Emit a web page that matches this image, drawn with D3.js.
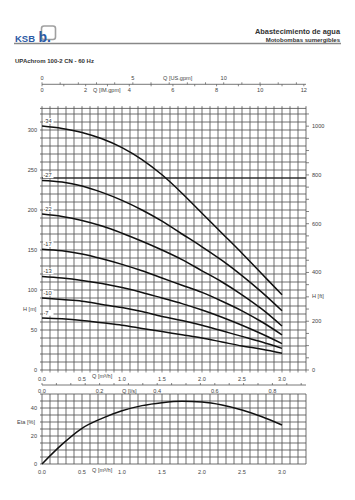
<!DOCTYPE html>
<html><head><meta charset="utf-8">
<script src="https://cdn.jsdelivr.net/npm/d3@7"></script>
<style>body{margin:0;background:#fff}svg{display:block}text{font-family:"Liberation Sans",Arial,sans-serif}</style>
</head><body><svg id="c" width="355" height="500"></svg>
<script>
// ---- data ----
const flow = [0, 0.25, 0.5, 0.75, 1.0, 1.25, 1.5, 1.75, 2.0, 2.25, 2.5, 2.75, 3.0]; // Q [m3/h]
const stageLabels = ["-34", "-27", "-22", "-17", "-13", "-10", "-7"];
const head34 = [305, 302, 297, 289, 278, 263, 244, 221, 196, 171, 146, 120, 94];
const head27 = [237, 235, 230, 222, 212, 200, 186, 170, 154, 137, 118, 97, 74];
const head22 = [195, 192, 187, 180, 171, 161, 150, 138, 124, 110, 94, 76, 55];
const head17 = [151, 149, 145, 139, 132, 124, 115, 106, 97, 86, 74, 60, 44];
const head13 = [117, 115, 112, 108, 103, 97, 90, 83, 75, 66, 56, 45, 33];
const head10 = [90, 88, 86, 82, 78, 73, 67, 62, 56, 49, 42, 35, 27];
const head7 = [65, 64, 62, 59, 56, 52, 48, 44, 40, 35, 30, 26, 21];
const heads = [head34, head27, head22, head17, head13, head10, head7];
const efficiency = [0, 14, 25.5, 32.6, 38, 41.7, 43.8, 44.8, 44.3, 42.2, 38.6, 33.8, 27.9];
const hTicks = [0, 50, 100, 150, 200, 250, 300];
const ftTicks = [0, 200, 400, 600, 800, 1000];
const qTicks = [0, 0.5, 1.0, 1.5, 2.0, 2.5, 3.0];
const lsTicks = [0, 0.2, 0.4, 0.6, 0.8];
const usTicks = [0, 5, 10];
const imTicks = [0, 2, 4, 6, 8, 10, 12];
const effTicks = [0, 20, 40];

const svg = d3.select("#c");
const x = d3.scaleLinear().domain([0, 3.3]).range([42, 306]);
const yH = d3.scaleLinear().domain([0, 327]).range([370, 108.4]);
const yFt = d3.scaleLinear().domain([0, 327 / 0.3048]).range([370, 108.4]);
const yE = d3.scaleLinear().domain([0, 50]).range([464, 394]);
const txt = "#444", grid = "#555";
const fs = 5.6;

// ---- header ----
svg.append("text").attr("x", 15).attr("y", 42).attr("font-size", 9.5).attr("font-weight", "bold").attr("fill", "#2b5aa5").text("KSB");
svg.append("rect").attr("x", 41.5).attr("y", 26).attr("width", 14).attr("height", 13.5).attr("rx", 2.5).attr("fill", "none").attr("stroke", "#a0a0a0").attr("stroke-width", 1.6);
svg.append("text").attr("x", 38.5).attr("y", 42).attr("font-size", 14).attr("font-weight", "bold").attr("fill", "#2b5aa5").text("b.");
svg.append("text").attr("x", 340).attr("y", 34.3).attr("text-anchor", "end").attr("font-size", 7.4).attr("font-weight", "bold").attr("fill", "#333").text("Abastecimiento de agua");
svg.append("text").attr("x", 340).attr("y", 41.5).attr("text-anchor", "end").attr("font-size", 6).attr("font-weight", "bold").attr("fill", "#333").text("Motobombas sumergibles");
svg.append("line").attr("x1", 14).attr("x2", 341).attr("y1", 43.5).attr("y2", 43.5).attr("stroke", "#888").attr("stroke-width", 1.4);
svg.append("text").attr("x", 15).attr("y", 63).attr("font-size", 6).attr("font-weight", "bold").attr("fill", "#333").text("UPAchrom 100-2 CN - 60 Hz");

// ---- top flow axes (US gpm above, IM gpm below) ----
const xUS = d3.scaleLinear().domain([0, 3.3 * 4.4029]).range([42, 306]);
const xIM = d3.scaleLinear().domain([0, 3.3 * 3.6662]).range([42, 306]);
const topY = 84.3;
svg.append("line").attr("x1", 42).attr("x2", 306).attr("y1", topY).attr("y2", topY).attr("stroke", "#555").attr("stroke-width", 0.8);
svg.append("g").selectAll("line").data(d3.range(0, 15)).join("line")
  .attr("x1", d => xUS(d)).attr("x2", d => xUS(d)).attr("y1", topY - 2).attr("y2", topY).attr("stroke", "#555").attr("stroke-width", 0.7);
svg.append("g").selectAll("line").data(d3.range(0, 13)).join("line")
  .attr("x1", d => xIM(d)).attr("x2", d => xIM(d)).attr("y1", topY).attr("y2", topY + 2).attr("stroke", "#555").attr("stroke-width", 0.7);
svg.append("g").selectAll("text").data(usTicks).join("text")
  .attr("x", d => xUS(d)).attr("y", 80.3).attr("text-anchor", "middle").attr("font-size", fs).attr("fill", txt).text(d => d);
svg.append("text").attr("x", 163).attr("y", 80.3).attr("font-size", fs).attr("fill", txt).text("Q [US.gpm]");
svg.append("g").selectAll("text").data(imTicks).join("text")
  .attr("x", d => xIM(d)).attr("y", 92).attr("text-anchor", "middle").attr("font-size", fs).attr("fill", txt).text(d => d);
svg.append("text").attr("x", 93).attr("y", 92).attr("font-size", fs).attr("fill", txt).text("Q [IM.gpm]");

// ---- main H-Q grid ----
const gm = svg.append("g");
const vq = d3.range(0, 34).map(i => i / 10);
gm.selectAll("line.v").data(vq).join("line").attr("class", "v")
  .attr("x1", d => x(d)).attr("x2", d => x(d)).attr("y1", yH(327) - 2.2).attr("y2", yH(0))
  .attr("stroke", grid).attr("stroke-width", 0.85);
const hq = d3.range(0, 33).map(i => i * 10).concat([327]);
gm.selectAll("line.h").data(hq).join("line").attr("class", "h")
  .attr("x1", x(0) - 2).attr("x2", x(3.3)).attr("y1", d => yH(d)).attr("y2", d => yH(d))
  .attr("stroke", grid).attr("stroke-width", 0.85);
// bold reference line
gm.append("line").attr("x1", x(0)).attr("x2", x(3.3)).attr("y1", yH(240)).attr("y2", yH(240)).attr("stroke", "#111").attr("stroke-width", 1.2);
// left H labels
svg.append("g").selectAll("text").data(hTicks).join("text")
  .attr("x", 37).attr("y", d => yH(d) + 2).attr("text-anchor", "end").attr("font-size", fs).attr("fill", txt).text(d => d);
svg.append("text").attr("x", 23).attr("y", 311).attr("font-size", fs).attr("fill", txt).text("H [m]");
// right ft axis
svg.append("g").selectAll("line").data(d3.range(0, 1051, 50)).join("line")
  .attr("x1", x(3.3)).attr("x2", x(3.3) + 3).attr("y1", d => yFt(d)).attr("y2", d => yFt(d)).attr("stroke", "#555").attr("stroke-width", 0.7);
svg.append("g").selectAll("text").data(ftTicks).join("text")
  .attr("x", 312).attr("y", d => yFt(d) + 2).attr("font-size", fs).attr("fill", txt).text(d => d);
svg.append("text").attr("x", 312).attr("y", 298).attr("font-size", fs).attr("fill", txt).text("H [ft]");

// curves
const lineH = d3.line().x((d, i) => x(flow[i])).y(d => yH(d)).curve(d3.curveMonotoneX);
svg.append("g").selectAll("path").data(heads).join("path")
  .attr("d", d => lineH(d)).attr("fill", "none").attr("stroke", "#111").attr("stroke-width", 1.5);
// stage labels
const gl = svg.append("g");
heads.forEach((h, i) => {
  const yy = yH(h[0]) - 3;
  gl.append("rect").attr("x", 43).attr("y", yy - 5).attr("width", 10.5).attr("height", 5.8).attr("fill", "#fff");
  gl.append("text").attr("x", 43.5).attr("y", yy).attr("font-size", 5.6).attr("fill", "#333").text(stageLabels[i]);
});

// ---- flow axes between charts ----
svg.append("g").selectAll("line").data(vq).join("line")
  .attr("x1", d => x(d)).attr("x2", d => x(d)).attr("y1", 370).attr("y2", 372.5).attr("stroke", "#555").attr("stroke-width", 0.7);
svg.append("g").selectAll("text").data(qTicks).join("text")
  .attr("x", d => x(d)).attr("y", 380.5).attr("text-anchor", "middle").attr("font-size", fs).attr("fill", txt).text(d => d.toFixed(1));
svg.append("text").attr("x", 92).attr("y", 378).attr("font-size", fs).attr("fill", txt).text("Q [m³/h]");
const xLS = d3.scaleLinear().domain([0, 3.3 / 3.6]).range([42, 306]);
svg.append("line").attr("x1", 42).attr("x2", 306).attr("y1", 385).attr("y2", 385).attr("stroke", "#555").attr("stroke-width", 0.8);
svg.append("g").selectAll("line").data(d3.range(0, 19).map(i => i * 0.05)).join("line")
  .attr("x1", d => xLS(d)).attr("x2", d => xLS(d)).attr("y1", 383).attr("y2", 385).attr("stroke", "#555").attr("stroke-width", 0.7);
svg.append("g").selectAll("text").data(lsTicks).join("text")
  .attr("x", d => xLS(d)).attr("y", 392.5).attr("text-anchor", "middle").attr("font-size", fs).attr("fill", txt).text(d => d.toFixed(1));
svg.append("text").attr("x", 122).attr("y", 392.5).attr("font-size", fs).attr("fill", txt).text("Q [l/s]");

// ---- efficiency chart ----
const ge = svg.append("g");
ge.selectAll("line.v").data(vq).join("line").attr("class", "v")
  .attr("x1", d => x(d)).attr("x2", d => x(d)).attr("y1", yE(50)).attr("y2", yE(0))
  .attr("stroke", grid).attr("stroke-width", 0.85);
ge.selectAll("line.h").data(d3.range(0, 11).map(i => i * 5)).join("line").attr("class", "h")
  .attr("x1", x(0) - 2).attr("x2", x(3.3)).attr("y1", d => yE(d)).attr("y2", d => yE(d))
  .attr("stroke", grid).attr("stroke-width", 0.85);
svg.append("g").selectAll("text").data(effTicks).join("text")
  .attr("x", 37).attr("y", d => yE(d) + 2).attr("text-anchor", "end").attr("font-size", fs).attr("fill", txt).text(d => d);
svg.append("text").attr("x", 17).attr("y", 424).attr("font-size", fs).attr("fill", txt).text("Eta [%]");
const lineE = d3.line().x((d, i) => x(flow[i])).y(d => yE(d)).curve(d3.curveMonotoneX);
svg.append("path").attr("d", lineE(efficiency)).attr("fill", "none").attr("stroke", "#111").attr("stroke-width", 1.5);
svg.append("g").selectAll("text").data(qTicks).join("text")
  .attr("x", d => x(d)).attr("y", 474).attr("text-anchor", "middle").attr("font-size", fs).attr("fill", txt).text(d => d.toFixed(1));
svg.append("text").attr("x", 92).attr("y", 472).attr("font-size", fs).attr("fill", txt).text("Q [m³/h]");
</script></body></html>
